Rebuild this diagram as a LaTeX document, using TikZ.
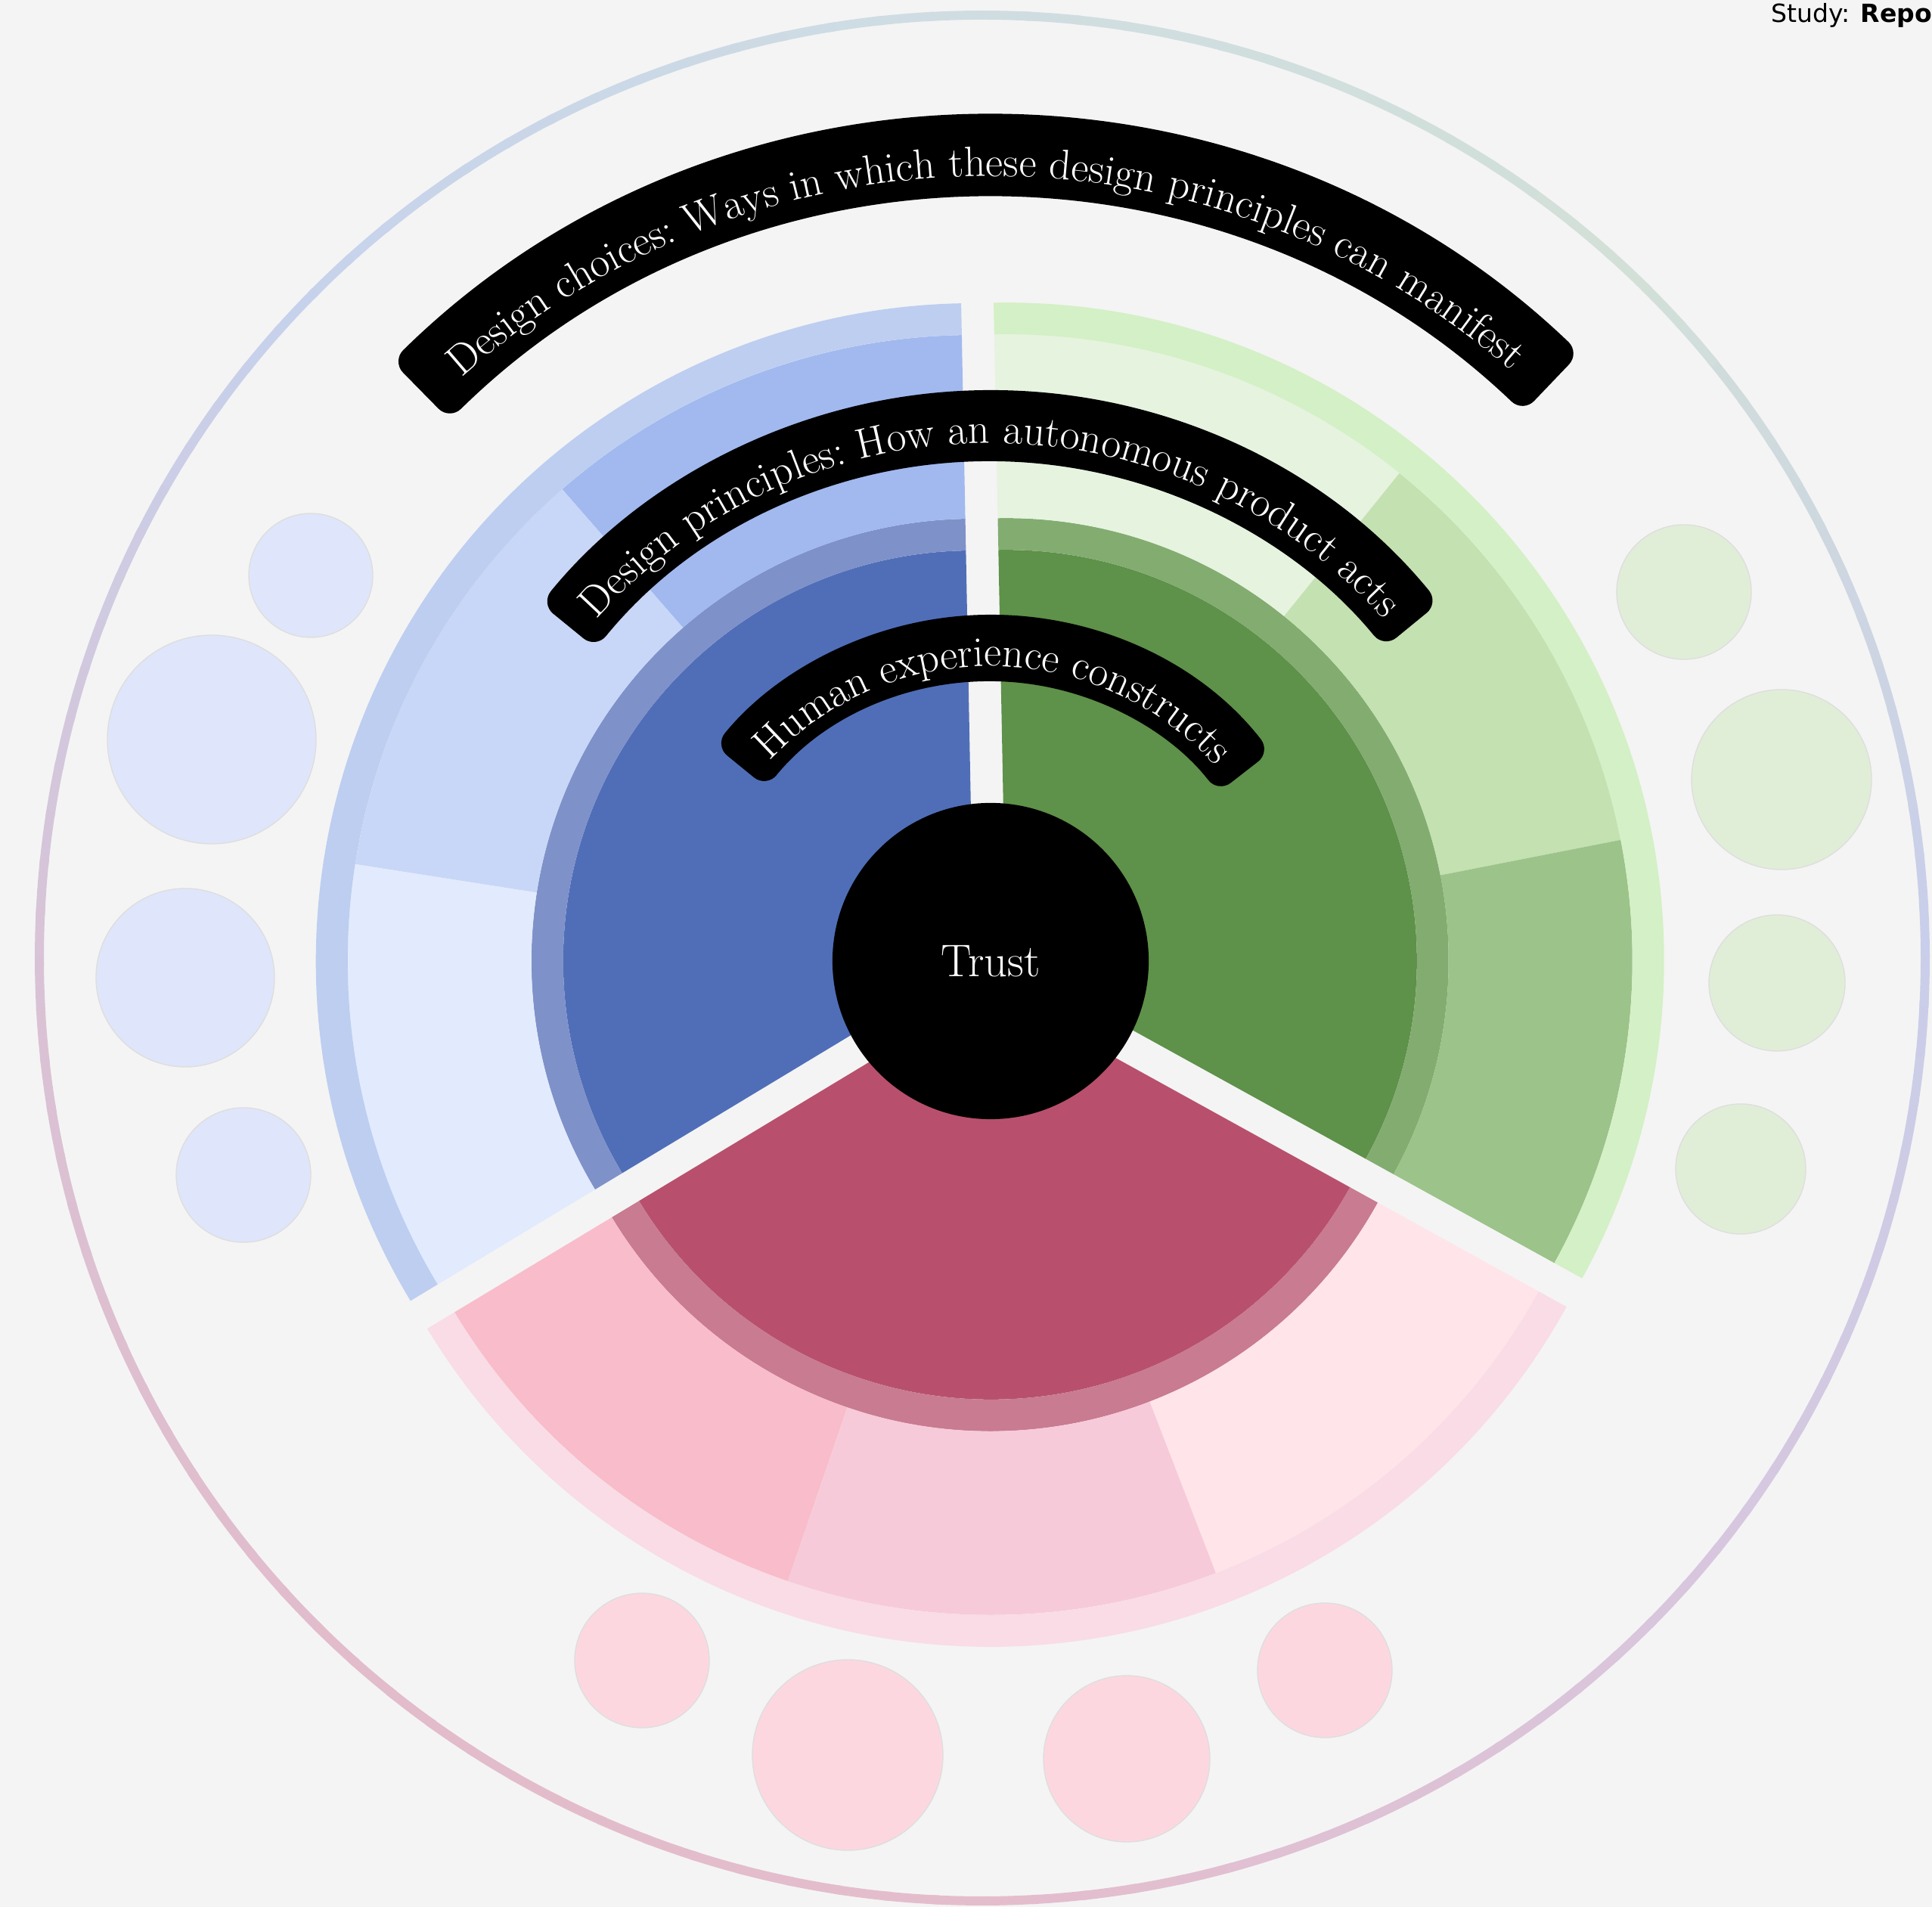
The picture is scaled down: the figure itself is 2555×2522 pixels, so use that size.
\documentclass[tikz,border=0pt]{standalone}
\usepackage{fontspec}
\setmainfont{Latin Modern Roman}
\newfontfamily\studyfont{DejaVu Sans}
\usetikzlibrary{decorations.text}

% page
\definecolor{bgc}{HTML}{F4F4F4}
% blue family
\definecolor{bDark}{HTML}{506EB8}
\definecolor{bTrans}{HTML}{7F91C9}
\definecolor{bSegA}{HTML}{A1B9EF}
\definecolor{bSegB}{HTML}{C8D7F7}
\definecolor{bSegC}{HTML}{E2EAFD}
\definecolor{bBand}{HTML}{BDCEF0}
\definecolor{bDot}{HTML}{DFE6FB}
% green family
\definecolor{gDark}{HTML}{5E9149}
\definecolor{gTrans}{HTML}{83AC71}
\definecolor{gSegA}{HTML}{E6F3DF}
\definecolor{gSegB}{HTML}{C4E1B1}
\definecolor{gSegC}{HTML}{9CC389}
\definecolor{gBand}{HTML}{D4F0C6}
\definecolor{gDot}{HTML}{E1EED7}
% red family
\definecolor{rDark}{HTML}{B8506D}
\definecolor{rTrans}{HTML}{C87B91}
\definecolor{rSegA}{HTML}{F9BCCB}
\definecolor{rSegB}{HTML}{F7CAD9}
\definecolor{rSegC}{HTML}{FFE4EA}
\definecolor{rBand}{HTML}{F9DCE5}
\definecolor{rDot}{HTML}{FDD7E0}
% colour stops of the outer ring, every 45 degrees
\definecolor{ring0}{HTML}{C9CEEA}
\definecolor{ring1}{HTML}{D2E0D8}
\definecolor{ring2}{HTML}{CFDDE2}
\definecolor{ring3}{HTML}{C6D2EC}
\definecolor{ring4}{HTML}{D9C2D5}
\definecolor{ring5}{HTML}{E2BCCB}
\definecolor{ring6}{HTML}{E4BDCC}
\definecolor{ring7}{HTML}{D8C6DD}
\definecolor{ring8}{HTML}{C9CEEA}

\tikzset{
  dot/.style={draw=black!13, line width=0.4pt},
  labelband/.style={fill=black, rounded corners=6pt},
}

% annular piece: style, start angle, end angle, inner radius, outer radius
\newcommand\ringpiece[5]{%
  \fill[#1] (#2:#4) arc[start angle=#2, end angle=#3, radius=#4]
    -- (#3:#5) arc[start angle=#3, end angle=#2, radius=#5] -- cycle;}

% white text set along an arc: start angle, end angle, radius, text
\newcommand\arctext[4]{%
  \path[decorate, decoration={text along path, text align=center,
    text={|\fontsize{16}{19}\selectfont\color{white}|#4}}]
    (#1:#3) arc[start angle=#1, end angle=#2, radius=#3];}

\begin{document}
\begin{tikzpicture}[x=0.01cm, y=0.01cm]
\useasboundingbox (0,0) rectangle (2555,2522);
\fill[bgc] (0,0) rectangle (2555,2522);

% outer ring with a colour sweep
\foreach \a in {0,3,...,357}{
  \pgfmathtruncatemacro\k{floor(\a/45)}
  \pgfmathtruncatemacro\kn{\k+1}
  \pgfmathtruncatemacro\t{100*(\a-45*\k)/45}
  \colorlet{rc}{ring\kn!\t!ring\k}
  \draw[rc, line width=3.4pt] (1299,1255) ++(\a:1247) arc[start angle=\a, end angle=\a+3.4, radius=1247];
}

% satellite dots
\fill[bDot, dot] (411,1761) circle (82);
\fill[bDot, dot] (280,1544) circle (138);
\fill[bDot, dot] (245,1229) circle (118);
\fill[bDot, dot] (322,968) circle (89);
\fill[gDot, dot] (2227,1739) circle (89);
\fill[gDot, dot] (2356,1491) circle (119);
\fill[gDot, dot] (2350,1222) circle (90);
\fill[gDot, dot] (2302,976) circle (86);
\fill[rDot, dot] (849,326) circle (89);
\fill[rDot, dot] (1121,201) circle (126);
\fill[rDot, dot] (1490,196) circle (110);
\fill[rDot, dot] (1752,313) circle (89);

% exploded pie, each sector pushed out along its bisector
\begin{scope}[shift={(1309.5,1239)}, rotate=1.1]
  \begin{scope}[shift={(150:24.8)}]
    \fill[bDark] (0,0) -- (90:543) arc[start angle=90, end angle=210, radius=543] -- cycle;
    \ringpiece{bTrans}{90}{210}{543}{585}
    \ringpiece{bSegA}{90}{130}{585}{828}
    \ringpiece{bSegB}{130}{170}{585}{828}
    \ringpiece{bSegC}{170}{210}{585}{828}
    \ringpiece{bBand}{90}{210}{828}{870}
  \end{scope}
  \begin{scope}[shift={(30:24.8)}]
    \fill[gDark] (0,0) -- (-30:543) arc[start angle=-30, end angle=90, radius=543] -- cycle;
    \ringpiece{gTrans}{-30}{90}{543}{585}
    \ringpiece{gSegA}{50}{90}{585}{828}
    \ringpiece{gSegB}{10}{50}{585}{828}
    \ringpiece{gSegC}{-30}{10}{585}{828}
    \ringpiece{gBand}{-30}{90}{828}{870}
  \end{scope}
  \begin{scope}[shift={(270:24.8)}]
    \fill[rDark] (0,0) -- (210:543) arc[start angle=210, end angle=330, radius=543] -- cycle;
    \ringpiece{rTrans}{210}{330}{543}{585}
    \ringpiece{rSegA}{210}{250}{585}{828}
    \ringpiece{rSegB}{250}{290}{585}{828}
    \ringpiece{rSegC}{290}{330}{585}{828}
    \ringpiece{rBand}{210}{330}{828}{870}
  \end{scope}
\end{scope}

% curved captions
\begin{scope}[shift={(1309.5,1239)}]
  \fill[labelband] (134.5:1020) arc[start angle=134.5, end angle=46.3, radius=1020]
    -- (46.3:1129) arc[start angle=46.3, end angle=134.5, radius=1129] -- cycle;
  \arctext{134.5}{46.3}{1050}{Design choices: Ways in which these design principles can manifest}
  \fill[labelband] (140.8:673) arc[start angle=140.8, end angle=39.3, radius=673]
    -- (39.3:767) arc[start angle=39.3, end angle=140.8, radius=767] -- cycle;
  \arctext{140.8}{39.3}{697}{Design principles: How an autonomous product acts}
  \fill[labelband] (140.8:382) arc[start angle=140.8, end angle=37.9, radius=382]
    -- (37.9:470) arc[start angle=37.9, end angle=140.8, radius=470] -- cycle;
  \arctext{140.8}{37.9}{402}{Human experience constructs}
\end{scope}

% hub
\node (trust) [circle, fill=black, minimum size=4.18cm, inner sep=0pt, text=white,
  font=\fontsize{17.2}{20}\selectfont] at (1310,1251) {Trust};

% corner caption, running off the page edge
\node (study) [anchor=base west, inner sep=0pt, font=\studyfont\fontsize{9.4}{11}\selectfont]
  at (2342,2492) {Study: \textbf{Repo}};
\end{tikzpicture}
\end{document}
